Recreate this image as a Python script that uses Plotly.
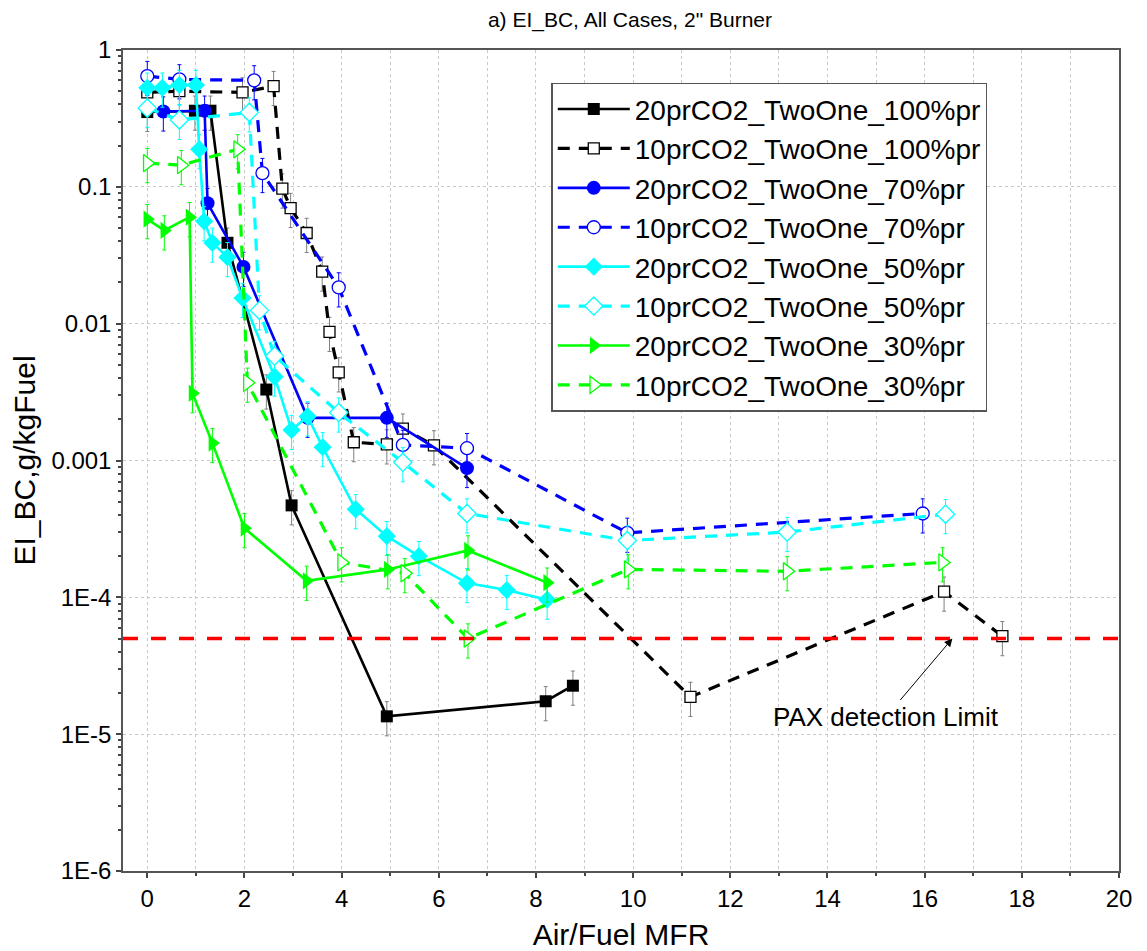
import math
import plotly.graph_objects as go

# ---------------- data ----------------
x_20_100 = [0, 0.98, 1.3, 1.65, 2.45, 2.97, 4.93, 8.2, 8.76]
y_20_100 = [0.352, 0.36, 0.36, 0.039, 0.0033, 0.00047, 1.35e-5, 1.74e-5, 2.26e-5]

x_10_100 = [0, 0.66, 1.96, 2.6, 2.78, 2.95, 3.28, 3.6, 3.75, 3.94, 4.25, 4.93, 5.26, 5.9, 11.18, 16.4, 17.6]
y_10_100 = [0.49, 0.5, 0.49, 0.545, 0.097, 0.07, 0.046, 0.024, 0.0087, 0.0044, 0.00136, 0.00131,
            0.00171, 0.00129, 1.87e-5, 1.1e-4, 5.2e-5]

x_20_70 = [0.33, 1.18, 1.24, 1.98, 3.3, 4.93, 6.58]
y_20_70 = [0.355, 0.36, 0.076, 0.026, 0.00205, 0.00205, 0.00088]

x_10_70 = [0, 0.66, 2.2, 2.37, 3.94, 5.26, 6.58, 9.88, 15.96]
y_10_70 = [0.645, 0.61, 0.6, 0.126, 0.0184, 0.0013, 0.00123, 2.96e-4, 4.1e-4]

x_20_50 = [0, 0.31, 0.66, 1.0, 1.07, 1.17, 1.34, 1.65, 1.96, 2.62, 2.97, 3.3, 3.61, 4.29, 4.93,
           5.59, 6.58, 7.4, 8.23]
y_20_50 = [0.53, 0.53, 0.555, 0.555, 0.188, 0.056, 0.039, 0.0306, 0.0154, 0.0041, 0.00167, 0.0021,
           0.00125, 4.4e-4, 2.8e-4, 2.0e-4, 1.27e-4, 1.13e-4, 9.6e-5]

x_10_50 = [0, 0.66, 2.1, 2.31, 2.62, 3.94, 5.26, 6.58, 9.88, 13.17, 16.43]
y_10_50 = [0.376, 0.308, 0.35, 0.0125, 0.0058, 0.00224, 0.00097, 4.1e-4, 2.6e-4, 3.0e-4, 4.05e-4]

x_20_30 = [0, 0.35, 0.87, 0.93, 1.34, 2.0, 3.28, 4.95, 6.6, 8.23]
y_20_30 = [0.058, 0.048, 0.06, 0.0031, 0.00134, 3.2e-4, 1.32e-4, 1.6e-4, 2.2e-4, 1.28e-4]

x_10_30 = [0, 0.7, 1.86, 2.06, 4.0, 5.3, 6.6, 9.9, 13.17, 16.37]
y_10_30 = [0.149, 0.144, 0.188, 0.0037, 1.8e-4, 1.5e-4, 5.0e-5, 1.6e-4, 1.55e-4, 1.8e-4]

DETECTION_LIMIT = 5e-5
ERR_PERCENT = 28

y_tickvals = [1, 0.1, 0.01, 0.001, 1e-4, 1e-5, 1e-6]
y_ticktext = ["1", "0.1", "0.01", "0.001", "1E-4", "1E-5", "1E-6"]

names = ["20prCO2_TwoOne_100%pr", "10prCO2_TwoOne_100%pr",
         "20prCO2_TwoOne_70%pr", "10prCO2_TwoOne_70%pr",
         "20prCO2_TwoOne_50%pr", "10prCO2_TwoOne_50%pr",
         "20prCO2_TwoOne_30%pr", "10prCO2_TwoOne_30%pr"]

# ---------------- styles ----------------
BLACK, BLUE, CYAN, GREEN = "#000000", "#0000ff", "#00ffff", "#00ff00"
DASH = "12px,9px"

series = [
    (x_20_100, y_20_100, BLACK, "solid", "square", 12, True, "#808080"),
    (x_10_100, y_10_100, BLACK, DASH, "square", 11, False, "#808080"),
    (x_20_70, y_20_70, BLUE, "solid", "circle", 14, True, BLUE),
    (x_10_70, y_10_70, BLUE, DASH, "circle", 13, False, BLUE),
    (x_20_50, y_20_50, CYAN, "solid", "diamond", 14, True, CYAN),
    (x_10_50, y_10_50, CYAN, DASH, "diamond", 14, False, CYAN),
    (x_20_30, y_20_30, GREEN, "solid", "triangle-right", 15, True, GREEN),
    (x_10_30, y_10_30, GREEN, DASH, "triangle-right", 15, False, GREEN),
]

fig = go.Figure()
for i, (xs, ys, col, dash, sym, size, filled, ecol) in enumerate(series):
    fig.add_trace(go.Scatter(
        x=xs, y=ys, name=names[i], legendgroup=f"g{i}",
        mode="lines+markers",
        line=dict(color=col, width=2.6 if dash == "solid" else 3.2, dash=dash),
        marker=dict(symbol=sym, size=size,
                    color=col if filled else "white",
                    line=dict(color=col, width=0 if filled else 1.3)),
        error_y=dict(type="percent", value=ERR_PERCENT, color=ecol,
                     thickness=1, width=2),
    ))

fig.add_hline(y=DETECTION_LIMIT, line=dict(color="#ff0000", width=3.5, dash="15px,13px"))

fig.add_annotation(
    x=16.57, y=math.log10(DETECTION_LIMIT), xref="x", yref="y",
    text="PAX detection Limit", showarrow=True,
    ax=-66, ay=78, arrowhead=2, arrowsize=1.6, arrowwidth=1, arrowcolor="#000",
    font=dict(size=26, color="#000"),
)

minor_y = [k * 10 ** n for n in range(-6, 0) for k in range(2, 10)]

axis_common = dict(
    showline=True, linecolor="#555", linewidth=1.5, mirror=True,
    ticks="outside", ticklen=5, tickwidth=1.5, tickcolor="#444",
    showgrid=True, gridcolor="#c8c8c8", griddash="dot", gridwidth=1,
    zeroline=False, tickfont=dict(size=24, color="#000"), automargin=False,
)

fig.update_layout(
    width=1139, height=943,
    margin=dict(l=115, r=28, t=42, b=80),
    paper_bgcolor="white", plot_bgcolor="white",
    font=dict(family="Liberation Sans, Arial, sans-serif", color="#000"),
    title=dict(text='a) EI_BC, All Cases, 2" Burner', x=0.509, xref="paper",
               y=1 - 12 / 943, yanchor="middle", font=dict(size=21)),
    xaxis=dict(
        **axis_common, range=[-0.5, 20], tick0=0, dtick=2,
        title=dict(text="Air/Fuel MFR", font=dict(size=30), standoff=14),
        minor=dict(dtick=1, ticks="outside", ticklen=3, tickcolor="#444",
                   showgrid=True, gridcolor="#c8c8c8", griddash="dot"),
    ),
    yaxis=dict(
        **axis_common, type="log", range=[-6, 0],
        tickmode="array", tickvals=y_tickvals, ticktext=y_ticktext,
        title=dict(text="EI_BC,g/kgFuel", font=dict(size=30), standoff=8),
        minor=dict(tickmode="array", tickvals=minor_y, ticks="outside",
                   ticklen=3, tickcolor="#444", showgrid=False),
    ),
    legend=dict(
        x=0.43, y=0.96, xanchor="left", yanchor="top",
        bgcolor="white", bordercolor="#555", borderwidth=1.5,
        font=dict(size=28), traceorder="grouped", tracegroupgap=0,
        itemwidth=72,
    ),
    showlegend=True,
)

fig.write_html("out.html")
